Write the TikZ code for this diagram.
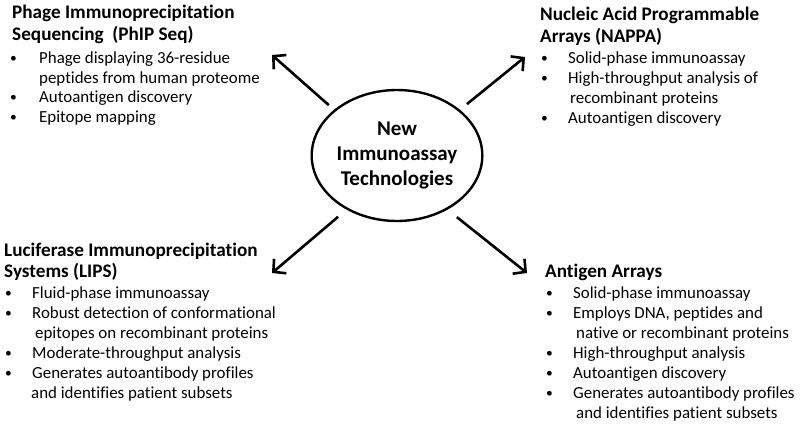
\documentclass[tikz,border=0pt]{standalone}
\usepackage{fontspec}
\setmainfont{Carlito}[Ligatures=NoCommon]
\usetikzlibrary{arrows.meta,shapes.geometric}

\tikzset{
  head/.style={anchor=base west, inner sep=0pt, font=\bfseries\fontsize{19.2}{21}\selectfont},
  txt/.style={anchor=base west, inner sep=0pt, font=\fontsize{16.9}{18}\selectfont},
  dot/.style={anchor=base west, inner sep=0pt, font=\fontsize{13.5}{18}\selectfont},
  arr/.style={line width=2.6pt, -{Straight Barb[length=9pt,width=19pt,line width=2.6pt]}}
}

\begin{document}
\begin{tikzpicture}[x=1pt,y=-1pt]
  \useasboundingbox (0,0) rectangle (800,429);

  % centre
  \node[draw, ellipse, line width=2.4pt, minimum width=148pt, minimum height=131pt, inner sep=0pt,
        align=center, font=\bfseries\fontsize{21}{25}\selectfont] (hub) at (397,155.5)
        {New\\Immunoassay\\Technologies};

  % top left block
  \node[head] (phip1) at (12,18) {Phage Immunoprecipitation};
  \node[head] (phip2) at (12,40) {Sequencing\ \ (PhIP Seq)};
  \foreach \y [count=\i] in {62,101,121}
    \node[dot] (phipd\i) at (10,\y) {\textbullet};
  \node[txt] (phipa) at (39,63) {Phage displaying 36-residue};
  \node[txt] (phipb) at (39,83) {peptides from human proteome};
  \node[txt] (phipc) at (39,102) {Autoantigen discovery};
  \node[txt] (phipe) at (39,122) {Epitope mapping};

  % top right block
  \node[head] (nappa1) at (540,20) {Nucleic Acid Programmable};
  \node[head] (nappa2) at (540,42.5) {Arrays (NAPPA)};
  \foreach \y [count=\i] in {62.5,82.5,122.5}
    \node[dot] (nappad\i) at (541,\y) {\textbullet};
  \node[txt] (nappaa) at (568,63.5) {Solid-phase immunoassay};
  \node[txt] (nappab) at (568,83.5) {High-throughput analysis of};
  \node[txt] (nappac) at (570,103.5) {recombinant proteins};
  \node[txt] (nappae) at (568,123.5) {Autoantigen discovery};

  % bottom left block
  \node[head] (lips1) at (4,256) {Luciferase Immunoprecipitation};
  \node[head] (lips2) at (4,277) {Systems (LIPS)};
  \foreach \y [count=\i] in {297.5,317.5,357.5,377.5}
    \node[dot] (lipsd\i) at (5,\y) {\textbullet};
  \node[txt] (lipsa) at (32,298.5) {Fluid-phase immunoassay};
  \node[txt] (lipsb) at (32,318.5) {Robust detection of conformational};
  \node[txt] (lipsc) at (35,338.5) {epitopes on recombinant proteins};
  \node[txt] (lipse) at (32,358.5) {Moderate-throughput analysis};
  \node[txt] (lipsf) at (32,378.5) {Generates autoantibody profiles};
  \node[txt] (lipsg) at (31,398.5) {and identifies patient subsets};

  % bottom right block
  \node[head] (agar1) at (545,277) {Antigen Arrays};
  \foreach \y [count=\i] in {297.5,317.5,357.5,377.5,397.5}
    \node[dot] (agard\i) at (546,\y) {\textbullet};
  \node[txt] (agara) at (573,298.5) {Solid-phase immunoassay};
  \node[txt] (agarb) at (573,318.5) {Employs DNA, peptides and};
  \node[txt] (agarc) at (576,338.5) {native or recombinant proteins};
  \node[txt] (agare) at (573,358.5) {High-throughput analysis};
  \node[txt] (agarf) at (573,378.5) {Autoantigen discovery};
  \node[txt] (agarg) at (573,398.5) {Generates autoantibody profiles};
  \node[txt] (agarh) at (576,418.5) {and identifies patient subsets};

  % arrows
  \coordinate (tipphip) at (272,55);
  \coordinate (tipnappa) at (525,57);
  \coordinate (tiplips) at (272,273);
  \coordinate (tipagar) at (527,273);
  \draw[arr, shorten <=7pt] (hub.144) -- (tipphip);
  \draw[arr, shorten <=9pt] (hub.36) -- (tipnappa);
  \draw[arr, shorten <=11pt] (hub.227) -- (tiplips);
  \draw[arr, shorten <=12pt] (hub.313) -- (tipagar);
\end{tikzpicture}
\end{document}
